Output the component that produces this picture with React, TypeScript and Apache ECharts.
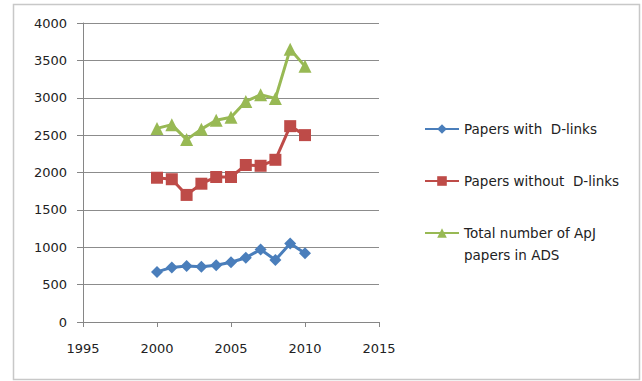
import React, { useEffect, useRef } from "react";
import * as echarts from "echarts";

const years = [2000, 2001, 2002, 2003, 2004, 2005, 2006, 2007, 2008, 2009, 2010];
const withLinks = [670, 730, 750, 740, 760, 800, 860, 970, 830, 1050, 920];
const withoutLinks = [1930, 1910, 1700, 1850, 1940, 1940, 2100, 2090, 2170, 2620, 2500];
const totalPapers = [2590, 2640, 2440, 2580, 2700, 2740, 2950, 3040, 2990, 3650, 3420];

const seriesNames = [
  "Papers with  D-links",
  "Papers without  D-links",
  "Total number of ApJ papers in ADS",
];
const colors = ["#4A7EBB", "#BE4B48", "#98B954"];
const FONT = "DejaVu Sans";

export default function App() {
  const ref = useRef<HTMLDivElement>(null);
  useEffect(() => {
    if (!ref.current) return;
    const chart = echarts.init(ref.current, undefined, { renderer: "svg" });
    const pair = (vals: number[]) => years.map((y, i) => [y, vals[i]]);
    const legendBase = {
      orient: "vertical",
      left: 424,
      padding: 0,
      itemWidth: 34,
      itemHeight: 12,
      itemGap: 0,
      textStyle: { fontFamily: FONT, fontSize: 13.5, color: "#222", lineHeight: 16 },
    };
    chart.setOption({
      animation: false,
      backgroundColor: "#ffffff",
      grid: { left: 83, right: 263, top: 23, bottom: 59, containLabel: false },
      xAxis: {
        type: "value",
        min: 1995,
        max: 2015,
        interval: 5,
        axisLine: { show: true, lineStyle: { color: "#868686", width: 1 } },
        axisTick: { show: true, length: 5, lineStyle: { color: "#868686" } },
        axisLabel: {
          margin: 20,
          color: "#222",
          fontFamily: FONT,
          fontSize: 13,
          formatter: (v: number) => String(v),
        },
        splitLine: { show: false },
      },
      yAxis: {
        type: "value",
        min: 0,
        max: 4000,
        interval: 500,
        axisLine: { show: true, lineStyle: { color: "#868686", width: 1 } },
        axisTick: { show: true, length: 6, lineStyle: { color: "#868686" } },
        axisLabel: {
          margin: 16,
          color: "#222",
          fontFamily: FONT,
          fontSize: 13,
          formatter: (v: number) => String(v),
        },
        splitLine: { show: true, lineStyle: { color: "#8c8c8c", width: 1 } },
      },
      legend: [
        { ...legendBase, top: 121, data: [{ name: seriesNames[0] }] },
        { ...legendBase, top: 173, data: [{ name: seriesNames[1] }] },
        {
          ...legendBase,
          top: 200,
          formatter: () => "\nTotal number of ApJ\npapers in ADS",
          data: [
            {
              name: seriesNames[2],
              textStyle: { lineHeight: 22 },
            },
          ],
        },
      ],
      graphic: [
        {
          type: "rect",
          shape: { x: 13.5, y: 4.5, width: 626, height: 375 },
          style: { fill: "none", stroke: "#c8c8c8", lineWidth: 1.5 },
          silent: true,
        },
      ],
      series: [
        {
          name: seriesNames[0],
          type: "line",
          data: pair(withLinks),
          symbol: "diamond",
          symbolSize: 12,
          lineStyle: { color: colors[0], width: 3 },
          itemStyle: { color: colors[0] },
        },
        {
          name: seriesNames[1],
          type: "line",
          data: pair(withoutLinks),
          symbol: "rect",
          symbolSize: 12,
          lineStyle: { color: colors[1], width: 3 },
          itemStyle: { color: colors[1] },
        },
        {
          name: seriesNames[2],
          type: "line",
          data: pair(totalPapers),
          symbol: "triangle",
          symbolSize: 13,
          lineStyle: { color: colors[2], width: 3 },
          itemStyle: { color: colors[2] },
        },
      ],
    });
    return () => chart.dispose();
  }, []);
  return (
    <div
      ref={ref}
      style={{ position: "absolute", left: 0, top: 0, width: 642, height: 381 }}
    />
  );
}
